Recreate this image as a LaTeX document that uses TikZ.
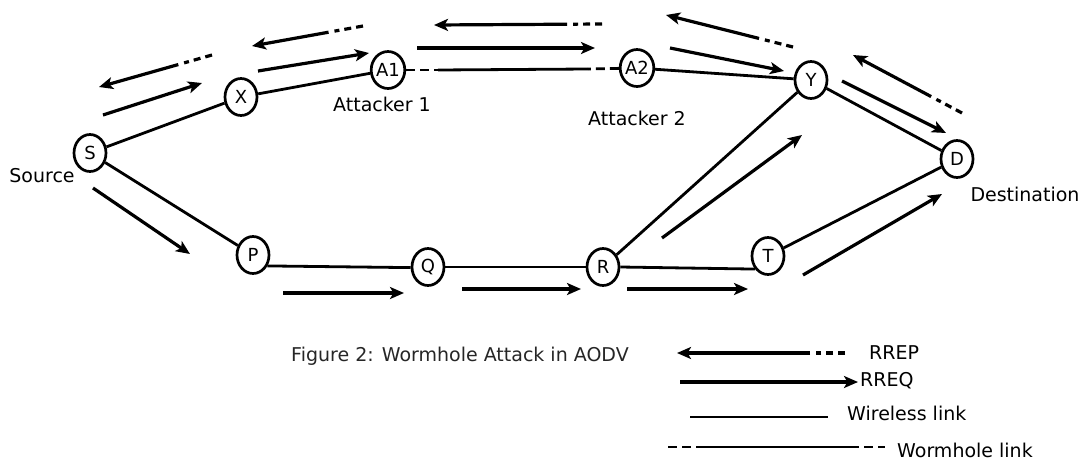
\documentclass[tikz,border=0pt]{standalone}
\usepackage{fontspec}
\setmainfont{DejaVu Sans}
\usetikzlibrary{arrows.meta,calc,shapes.geometric}

\tikzset{
  station/.style={draw, ellipse, line width=2.7pt, minimum width=32pt, minimum height=37pt,
                  inner sep=0pt, font=\fontsize{18}{18}\selectfont},
  label/.style={font=\fontsize{19}{19}\selectfont, inner sep=0pt},
  wire/.style={line width=2.8pt},
  msg/.style={line width=3.2pt, -{Stealth[length=14pt,width=12pt,inset=3.5pt]}},
  tail/.style={line width=3.2pt, dash pattern=on 7pt off 5pt},
  hole/.style={line width=2.8pt, dash pattern=on 9pt off 5pt},
}
% route reply: short dashed tail, then a solid arrow
\newcommand\replyarrow[2]{%
  \draw[tail] (#1) -- ($(#1)!29pt!(#2)$);
  \draw[msg] ($(#1)!35pt!(#2)$) -- (#2);}

\begin{document}
\begin{tikzpicture}[x=1pt,y=-1pt]
\useasboundingbox (0,0) rectangle (1081,461);

% stations
\node[station] (S)  at (90,153)  {S};
\node[station] (X)  at (241,97)  {X};
\node[station] (A1) at (388,70)  {A1};
\node[station] (A2) at (637,68)  {A2};
\node[station] (Y)  at (811,80)  {Y};
\node[station] (D)  at (957,159) {D};
\node[station] (P)  at (253,255) {P};
\node[station] (Q)  at (428,267) {Q};
\node[station] (R)  at (603,267) {R};
\node[station] (T)  at (768,256) {T};

% wireless links
\draw[wire] (S) -- (X);
\draw[wire] (X) -- (A1);
\draw[wire] (A2) -- (Y);
\draw[wire] (Y) -- (D);
\draw[wire] (S) -- (P);
\draw[wire] (P.-37) -- (Q.182);
\draw[wire] (Q) -- (R);
\draw[wire] (R.east) -- (T.225);
\draw[wire] (R) -- (Y);
\draw[wire] (T) -- (D);

% wormhole tunnel between the attackers
\coordinate (w1) at (438,70);
\coordinate (w2) at (588,69);
\draw[hole] (A1) -- (w1);
\draw[wire] (w1) -- (w2);
\draw[hole] (A2) -- (w2);

% route requests
\coordinate (q1s) at (103,115); \coordinate (q1e) at (202,83);
\coordinate (q2s) at (258,71);  \coordinate (q2e) at (369,53);
\coordinate (q3s) at (417,48);  \coordinate (q3e) at (595,48);
\coordinate (q4s) at (670,48);  \coordinate (q4e) at (784,71);
\coordinate (q5s) at (842,81);  \coordinate (q5e) at (946,133);
\coordinate (q6s) at (93,188);  \coordinate (q6e) at (190,254);
\coordinate (q7s) at (283,293); \coordinate (q7e) at (404,293);
\coordinate (q8s) at (462,289); \coordinate (q8e) at (581,289);
\coordinate (q9s) at (627,289); \coordinate (q9e) at (748,289);
\coordinate (q10s) at (662,238); \coordinate (q10e) at (802,135);
\coordinate (q11s) at (803,275); \coordinate (q11e) at (942,194);
\foreach \k in {1,...,11} \draw[msg] (q\k s) -- (q\k e);

% route replies
\coordinate (p1s) at (212,55);  \coordinate (p1e) at (99,87);
\coordinate (p2s) at (363,26);  \coordinate (p2e) at (252,46);
\coordinate (p3s) at (602,24);  \coordinate (p3e) at (434,25);
\coordinate (p4s) at (793,47);  \coordinate (p4e) at (666,15);
\coordinate (p5s) at (962,113); \coordinate (p5e) at (853,55);
\foreach \k in {1,...,5} {\replyarrow{p\k s}{p\k e}}

% labels
\node[label] (lsrc) at (42,176)   {Source};
\node[label] (la1)  at (382,104)  {Attacker 1};
\node[label] (la2)  at (637,118)  {Attacker 2};
\node[label] (ldst) at (1025,194) {Destination};
\node[label, text=black!85] (cap) at (460,356) {Figure 2: Wormhole Attack in AODV};

% legend
\coordinate (g1s) at (845,353); \coordinate (g1e) at (677,353);
\replyarrow{g1s}{g1e}
\node[label, anchor=west] (t1) at (869,353) {RREP};
\coordinate (g2s) at (680,382); \coordinate (g2e) at (858,382);
\draw[msg] (g2s) -- (g2e);
\node[label, anchor=west] (t2) at (860,381) {RREQ};
\coordinate (g3s) at (690,417); \coordinate (g3e) at (828,417);
\draw[wire] (g3s) -- (g3e);
\node[label, anchor=west] (t3) at (847,413) {Wireless link};
\coordinate (g4a) at (668,447); \coordinate (g4b) at (700,447);
\coordinate (g4c) at (850,447); \coordinate (g4d) at (885,447);
\draw[hole] (g4a) -- (g4b);
\draw[wire] (g4b) -- (g4c);
\draw[hole] (g4c) -- (g4d);
\node[label, anchor=west] (t4) at (897,450) {Wormhole link};
\end{tikzpicture}
\end{document}
